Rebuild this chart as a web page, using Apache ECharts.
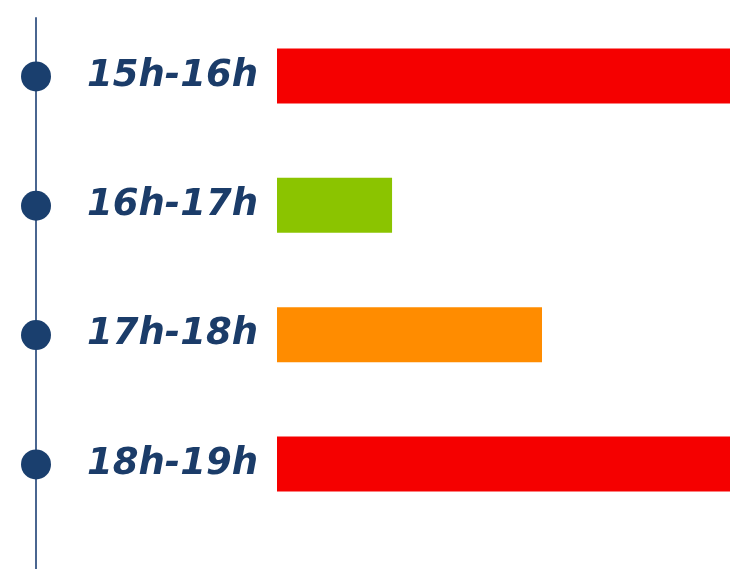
<!DOCTYPE html>
<html>
<head>
<meta charset="utf-8">
<script src="https://cdn.jsdelivr.net/npm/echarts@6/dist/echarts.min.js"></script>
<style>
html,body{margin:0;padding:0;background:#fff;}
#c{width:730px;height:569px;}
</style>
</head>
<body>
<div id="c"></div>
<script>
const categories = ['15h-16h', '16h-17h', '17h-18h', '18h-19h'];
const values = [100, 25.4, 58.5, 100];
const barColors = ['#f50000', '#8bc400', '#ff8c00', '#f50000'];
const dotPositions = [0, 1, 2, 3];

const chart = echarts.init(document.getElementById('c'));
chart.setOption({
  animation: false,
  backgroundColor: '#ffffff',
  grid: [
    { left: 277, right: 0, top: 11.35, height: 517.3 },
    { left: 36, width: 10, top: 18, bottom: 0 }
  ],
  xAxis: [
    { gridIndex: 0, type: 'value', min: 0, max: 100, show: false },
    { gridIndex: 1, type: 'value', min: 0, max: 1, show: false }
  ],
  yAxis: [
    {
      gridIndex: 0, type: 'category', data: categories, inverse: true,
      axisLine: { show: false }, axisTick: { show: false }, splitLine: { show: false },
      axisLabel: {
        margin: 19, align: 'right', padding: [6, 0, 0, 0],
        fontFamily: 'DejaVu Sans', fontWeight: 'bold', fontStyle: 'italic',
        fontSize: 37, color: '#1b3c69'
      }
    },
    {
      gridIndex: 1, type: 'value', inverse: true, min: -0.452, max: 3.809,
      axisLine: { show: true, lineStyle: { color: '#4a6690', width: 2 } },
      axisTick: { show: false }, axisLabel: { show: false }, splitLine: { show: false }
    }
  ],
  series: [
    {
      type: 'bar', xAxisIndex: 0, yAxisIndex: 0, barWidth: 55,
      data: values.map((v, i) => ({ value: v, itemStyle: { color: barColors[i] } }))
    },
    {
      type: 'scatter', xAxisIndex: 1, yAxisIndex: 1, symbolSize: 30, clip: false,
      itemStyle: { color: '#1a3f6e', opacity: 1 },
      data: dotPositions.map(p => [0, p])
    }
  ]
});
</script>
</body>
</html>
